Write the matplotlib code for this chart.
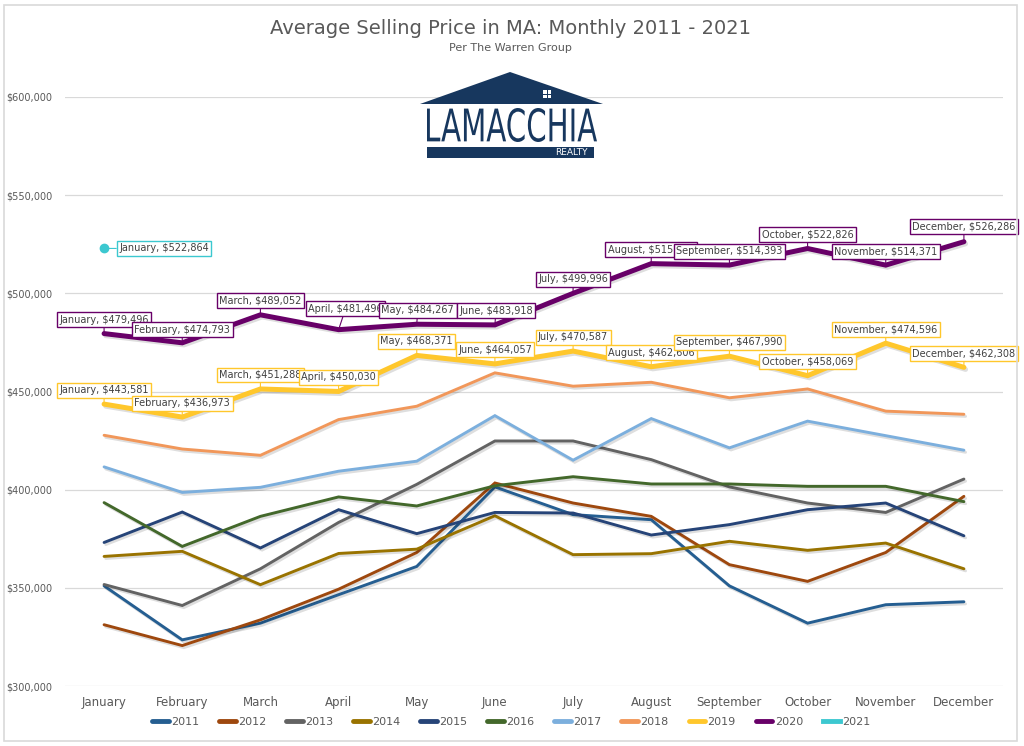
import matplotlib
matplotlib.use("Agg")
import matplotlib.pyplot as plt
import matplotlib.patheffects as pe
from matplotlib.patches import Polygon, Rectangle, PathPatch
from matplotlib.textpath import TextPath
from matplotlib.font_manager import FontProperties
from matplotlib.transforms import Affine2D
from matplotlib.ticker import FuncFormatter

plt.rcParams['font.family'] = ['DejaVu Sans']

months = ["January", "February", "March", "April", "May", "June", "July",
          "August", "September", "October", "November", "December"]

y2011 = [351000, 323500, 332000, 346500, 360900, 401400, 387300, 384700, 351000, 332000, 341400, 342900]
y2012 = [331200, 320600, 333700, 349300, 368000, 403400, 393200, 386400, 361800, 353300, 368000, 396600]
y2013 = [351700, 341000, 359700, 383300, 402700, 424800, 424800, 415300, 401400, 393200, 388400, 405400]
y2014 = [366000, 368600, 351600, 367500, 369700, 386700, 366900, 367400, 373700, 369100, 372800, 359700]
y2015 = [373100, 388600, 370300, 389800, 377600, 388400, 388100, 376900, 382200, 389800, 393200, 376500]
y2016 = [393400, 371100, 386400, 396300, 391700, 402000, 406600, 402900, 402900, 401700, 401700, 393900]
y2017 = [411600, 398600, 401200, 409400, 414500, 437700, 415000, 436200, 421300, 434900, 427500, 420100]
y2018 = [427700, 420700, 417500, 435700, 442500, 459500, 452700, 454700, 446800, 451300, 440000, 438400]
y2019 = [443581, 436973, 451288, 450030, 468371, 464057, 470587, 462606, 467990, 458069, 474596, 462308]
y2020 = [479496, 474793, 489052, 481496, 484267, 483918, 499996, 515120, 514393, 522826, 514371, 526286]
y2021 = [522864]

series = [
    ("2011", y2011, "#255E91", 2.1),
    ("2012", y2012, "#9E480E", 2.1),
    ("2013", y2013, "#636363", 2.1),
    ("2014", y2014, "#997300", 2.1),
    ("2015", y2015, "#264478", 2.1),
    ("2016", y2016, "#43682B", 2.1),
    ("2017", y2017, "#7CAFDD", 2.1),
    ("2018", y2018, "#F1975A", 2.1),
    ("2019", y2019, "#FFC72C", 3.6),
    ("2020", y2020, "#680068", 3.6),
    ("2021", y2021, "#3CC8D0", 2.1),
]

# label offsets (pixels) for 2019/2020 callouts
off2019 = [(0, 14)] * 12
off2020 = [(0, 14), (0, 13), (0, 14), (7, 21), (1, 14), (1, 14),
           (0, 14), (0, 14), (0, 14), (0, 14), (0, 14), (0, 15)]

W, H = 1024, 746
fig = plt.figure(figsize=(W / 100, H / 100), dpi=100)
fig.patch.set_facecolor("white")


def fx(px):
    return px / W


def fy(py):
    return 1 - py / H


# chart border
fig.add_artist(Rectangle((fx(4), fy(741)), (1017 - 4) / W, (741 - 5) / H,
                         transform=fig.transFigure, fill=False,
                         edgecolor="#d9d9d9", linewidth=1.2))

ax = fig.add_axes([fx(65), fy(686), (1003 - 65) / W, (686 - 97) / H])
ax.set_xlim(-0.5, 11.5)
ax.set_ylim(300000, 600000)
ax.set_yticks([300000, 350000, 400000, 450000, 500000, 550000, 600000])
ax.yaxis.set_major_formatter(FuncFormatter(lambda v, p: f"${v:,.0f}"))
ax.set_xticks(range(12))
ax.set_xticklabels(months)
ax.tick_params(axis="both", length=0, colors="#595959")
ax.tick_params(axis="y", pad=9, labelsize=7)
ax.tick_params(axis="x", pad=7, labelsize=8.5)
for s in ax.spines.values():
    s.set_visible(False)
ax.grid(axis="y", color="#d9d9d9", linewidth=0.9)
ax.set_axisbelow(True)

shadow = [pe.SimpleLineShadow(offset=(1.2, -1.5), shadow_color="#000000", alpha=0.13),
          pe.Normal()]

handles = []
for name, vals, color, lw in series:
    xs = list(range(len(vals)))
    if len(vals) == 1:
        ln, = ax.plot(xs, vals, color=color, lw=lw, marker="o", markersize=6,
                      label=name, zorder=3)
    else:
        ln, = ax.plot(xs, vals, color=color, lw=lw, solid_capstyle="round",
                      solid_joinstyle="miter", label=name, zorder=3,
                      path_effects=shadow)
    handles.append(ln)


def callout(x, y, text, color, off, shrinkB=0):
    ax.annotate(text, xy=(x, y), xytext=off, textcoords="offset pixels",
                ha="center", va="center", fontsize=7, color="#404040",
                bbox=dict(boxstyle="square,pad=0.25", fc="white", ec=color, lw=1),
                arrowprops=dict(arrowstyle="-", color=color, lw=0.8,
                                shrinkA=0, shrinkB=shrinkB),
                zorder=5)


for i, v in enumerate(y2019):
    callout(i, v, f"{months[i]}, ${v:,}", "#FFC72C", off2019[i])
for i, v in enumerate(y2020):
    callout(i, v, f"{months[i]}, ${v:,}", "#680068", off2020[i])
callout(0, y2021[0], f"{months[0]}, ${y2021[0]:,}", "#3CC8D0", (60, 0), shrinkB=3)

# titles
fig.text(fx(510), fy(28), "Average Selling Price in MA: Monthly 2011 - 2021",
         ha="center", va="center", fontsize=14, color="#595959")
fig.text(fx(510), fy(48), "Per The Warren Group", ha="center", va="center",
         fontsize=8, color="#595959")

# logo
navy = "#17375E"
fig.add_artist(Polygon([(fx(420), fy(104)), (fx(510), fy(72)), (fx(603), fy(104))],
                       closed=True, transform=fig.transFigure, fc=navy, ec="none", zorder=6))
for (wx, wy) in [(543, 90), (547.5, 90), (543, 94.5), (547.5, 94.5)]:
    fig.add_artist(Rectangle((fx(wx), fy(wy + 3.5)), 3.5 / W, 3.5 / H,
                             transform=fig.transFigure, fc="white", ec="none", zorder=7))

tp = TextPath((0, 0), "LAMACCHIA", size=100, prop=FontProperties(family="DejaVu Sans"))
bb = tp.get_extents()
tx0, tx1, ty0, ty1 = 427, 597, 108, 142  # pixel box of the word
sx = (tx1 - tx0) / bb.width
sy = (ty1 - ty0) / bb.height
tr = (Affine2D().translate(-bb.x0, -bb.y0).scale(sx, sy)
      .translate(tx0, H - ty1))
fig.add_artist(PathPatch(tr.transform_path(tp), fc=navy, ec="none",
                         transform=None, zorder=7))
fig.add_artist(Rectangle((fx(427), fy(158)), (594 - 427) / W, 11 / H,
                         transform=fig.transFigure, fc=navy, ec="none", zorder=6))
fig.text(fx(588), fy(152.5), "REALTY", ha="right", va="center", fontsize=6.5,
         color="white", zorder=7)

leg = fig.legend(handles=handles, labels=[s[0] for s in series], loc="center",
                 bbox_to_anchor=(fx(511), fy(722)), ncol=11, frameon=False,
                 fontsize=8, handlelength=1.5, handletextpad=0.2,
                 columnspacing=1.8, labelcolor="#595959")
for h in leg.legend_handles:
    h.set_linewidth(3.5)
    h.set_marker("")
    h.set_path_effects([])

fig.savefig("out.png", dpi=100, facecolor="white")
